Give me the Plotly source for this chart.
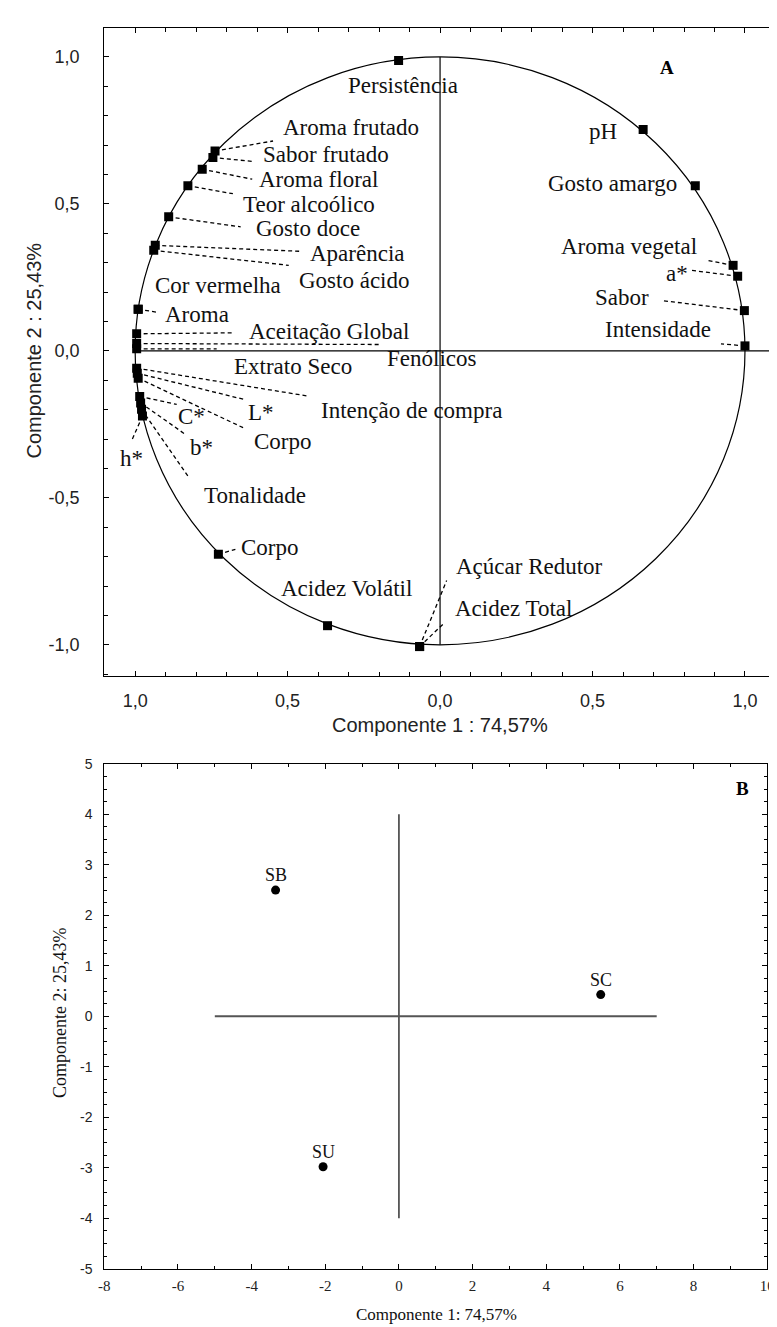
import plotly.graph_objects as go

# ---------------- Panel A : variable loadings ----------------
var_names = ["Persistência", "Aroma frutado", "Sabor frutado", "Aroma floral", "Teor alcoólico",
             "Gosto doce", "Aparência", "Gosto ácido", "Cor vermelha", "Aroma",
             "Aceitação Global", "Fenólicos", "Extrato Seco", "Intenção de compra", "L*",
             "Corpo", "C*", "b*", "Tonalidade", "h*",
             "Corpo", "Acidez Volátil", "Açúcar Redutor", "Acidez Total", "pH",
             "Gosto amargo", "Aroma vegetal", "a*", "Sabor", "Intensidade"]
comp1 = [-0.136, -0.738, -0.745, -0.780, -0.827,
         -0.890, -0.934, -0.939, -0.990, -0.990,
         -0.995, -0.995, -0.995, -0.995, -0.993,
         -0.990, -0.985, -0.982, -0.979, -0.976,
         -0.727, -0.369, -0.067, -0.067, 0.666,
         0.837, 0.961, 0.976, 0.998, 1.000]
comp2 = [0.988, 0.680, 0.658, 0.618, 0.562,
         0.456, 0.359, 0.342, 0.142, 0.142,
         0.058, 0.025, 0.007, -0.059, -0.076,
         -0.093, -0.155, -0.177, -0.199, -0.222,
         -0.692, -0.935, -1.006, -1.006, 0.753,
         0.562, 0.291, 0.254, 0.137, 0.017]

# label offsets (pixels, relative to point) and leader-line ends (pixels), style only
label_off = [(4, -25), (136, 24), (113, 3), (116, -10), (121, -19),
             (139, -12), (202, -8), (201, -30), (80, 24), (59, -5),
             (192, 2), (295, -15), (156, -18), (275, -42), (124, -39),
             (145, -63), (52, -20), (61, -45), (113, -86), (-11, -42),
             (52, 7), (19, 37), (110, 80), (94, 38), (-40, -2),
             (-83, 2), (-104, 19), (-61, 3), (-122, 13), (-87, 16)]
leader_end = [None, (58, 10), (40, -4), (50, -10), (45, -8),
              (72, -10), (146, -6), (135, -15), None, (18, -3),
              (98, 1), (242, -1), (80, 0), (172, -28), (106, -26),
              (106, -50), (37, -8), (44, -31), (48, -69), (-11, -25),
              (17, 5), None, (27, 66), (24, 23), None,
              None, (-26, 5), (-47, 6), (-82, 10), (-24, 2)]

# ---------------- Panel B : sample scores ----------------
samples = ["SB", "SC", "SU"]
score1 = [-3.35, 5.48, -2.06]
score2 = [2.50, 0.43, -2.98]

# tick labels
a_x_tickvals = [-1, -0.5, 0, 0.5, 1]
a_x_ticktext = ["1,0", "0,5", "0,0", "0,5", "1,0"]
a_y_tickvals = [-1, -0.5, 0, 0.5, 1]
a_y_ticktext = ["-1,0", "-0,5", "0,0", "0,5", "1,0"]
b_x_tickvals = [-8, -6, -4, -2, 0, 2, 4, 6, 8, 10]
b_x_ticktext = ["-8", "-6", "-4", "-2", "0", "2", "4", "6", "8", "10"]
b_y_tickvals = [-5, -4, -3, -2, -1, 0, 1, 2, 3, 4, 5]
b_y_ticktext = ["-5", "-4", "-3", "-2", "-1", "0", "1", "2", "3", "4", "5"]

W, H = 777, 1327
SERIF = "Liberation Serif"
SANS = "Liberation Sans"

fig = go.Figure()

# Panel A markers
fig.add_trace(go.Scatter(x=comp1, y=comp2, mode="markers", xaxis="x", yaxis="y",
                         marker=dict(symbol="square", size=9, color="black"),
                         hoverinfo="text", text=var_names, showlegend=False))

# Panel B markers
fig.add_trace(go.Scatter(x=score1, y=score2, mode="markers", xaxis="x2", yaxis="y2",
                         marker=dict(symbol="circle", size=9, color="black"),
                         hoverinfo="text", text=samples, showlegend=False))

shapes = []
# unit circle
shapes.append(dict(type="circle", xref="x", yref="y", x0=-1, y0=-1, x1=1, y1=1,
                   line=dict(color="black", width=1.2), layer="below"))
# A reference lines
shapes.append(dict(type="line", xref="x", yref="y", x0=0, x1=0, y0=-1, y1=1,
                   line=dict(color="black", width=1.2), layer="below"))
shapes.append(dict(type="line", xref="x", yref="y", x0=-1, x1=1.12, y0=0, y1=0,
                   line=dict(color="black", width=1.2), layer="below"))
# B reference lines
shapes.append(dict(type="line", xref="x2", yref="y2", x0=0, x1=0, y0=-4, y1=4,
                   line=dict(color="#333333", width=1.5), layer="below"))
shapes.append(dict(type="line", xref="x2", yref="y2", x0=-5, x1=7, y0=0, y1=0,
                   line=dict(color="#555555", width=2), layer="below"))

# leader lines (pixel offsets anchored to each point)
for cx, cy, le in zip(comp1, comp2, leader_end):
    if le is None:
        continue
    shapes.append(dict(type="line", xref="x", yref="y", xsizemode="pixel", ysizemode="pixel",
                       xanchor=cx, yanchor=cy, x0=0, y0=0, x1=le[0], y1=le[1],
                       line=dict(color="black", width=1.3, dash="4px,3px"), layer="below"))

annotations = []
for name, cx, cy, off in zip(var_names, comp1, comp2, label_off):
    annotations.append(dict(x=cx, y=cy, xref="x", yref="y", text=name, showarrow=False,
                            xshift=off[0], yshift=off[1], xanchor="center", yanchor="middle",
                            font=dict(family=SERIF, size=23, color="#111111")))
for name, sx, sy in zip(samples, score1, score2):
    annotations.append(dict(x=sx, y=sy, xref="x2", yref="y2", text=name, showarrow=False,
                            yshift=15, xanchor="center", yanchor="middle",
                            font=dict(family=SERIF, size=18, color="#111111")))

def paper_text(px, py, text, family, size, angle=0, color="#111111"):
    return dict(x=px / W, y=1 - py / H, xref="paper", yref="paper", text=text,
                showarrow=False, xanchor="center", yanchor="middle", textangle=angle,
                font=dict(family=family, size=size, color=color))

# panel letters
annotations.append(paper_text(665, 52, "<b>A</b>", SERIF, 19, color="black"))
annotations.append(paper_text(742, 782, "<b>B</b>", SERIF, 19, color="black"))
# axis titles
annotations.append(paper_text(434, 718, "Componente 1 : 74,57%", SANS, 20, color="#222222"))
annotations.append(paper_text(20, 339, "Componente 2 : 25,43%", SANS, 20, -90, color="#222222"))
annotations.append(paper_text(430, 1314, "Componente 1: 74,57%", SERIF, 17))
annotations.append(paper_text(47, 1009, "Componente 2: 25,43%", SERIF, 18, -90))

axis_common = dict(showgrid=False, zeroline=False, showline=True, linecolor="black",
                   linewidth=1.2, mirror="ticks", ticks="inside", tickcolor="black",
                   fixedrange=True, ticklabeloverflow="allow")

fig.update_layout(
    width=W, height=H, margin=dict(l=0, r=0, t=0, b=0),
    paper_bgcolor="white", plot_bgcolor="white", showlegend=False,
    shapes=shapes, annotations=annotations,
    xaxis=dict(domain=[92 / W, 1.0], range=[-1.101, 1.105], anchor="y",
               tickvals=a_x_tickvals, ticktext=a_x_ticktext, ticklen=5,
               minor=dict(dtick=0.1, tick0=0, ticks="inside", ticklen=4, tickcolor="black"),
               ticklabelstandoff=8,
               tickfont=dict(family=SANS, size=18, color="#222222"), **axis_common),
    yaxis=dict(domain=[1 - 668 / H, 1 - 11.7 / H], range=[-1.106, 1.100], anchor="x",
               tickvals=a_y_tickvals, ticktext=a_y_ticktext, ticklen=5,
               minor=dict(dtick=0.1, tick0=0, ticks="inside", ticklen=4, tickcolor="black"),
               ticklabelstandoff=20,
               tickfont=dict(family=SANS, size=18, color="#222222"), **axis_common),
    xaxis2=dict(domain=[92 / W, 767 / W], range=[-8, 10], anchor="y2",
                tickvals=b_x_tickvals, ticktext=b_x_ticktext, ticklen=5,
                minor=dict(dtick=1, tick0=0, ticks="inside", ticklen=3, tickcolor="black"),
                ticklabelstandoff=3,
                tickfont=dict(family=SERIF, size=15, color="#222222"), **axis_common),
    yaxis2=dict(domain=[1 - 1268 / H, 1 - 757 / H], range=[-5, 5], anchor="x2",
                tickvals=b_y_tickvals, ticktext=b_y_ticktext, ticklen=5,
                minor=dict(dtick=0.25, tick0=0, ticks="inside", ticklen=3, tickcolor="black"),
                ticklabelstandoff=8,
                tickfont=dict(family=SANS, size=14, color="#222222"), **axis_common),
)

fig.write_html("out.html")
